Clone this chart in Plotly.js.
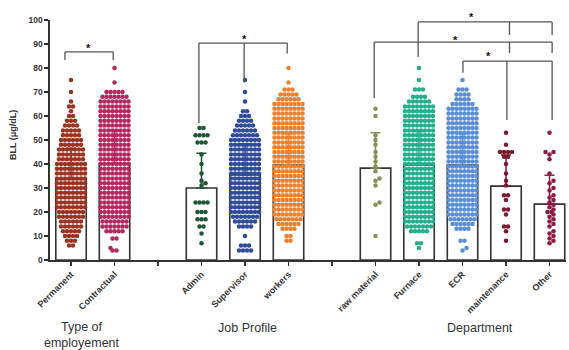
<!DOCTYPE html>
<html><head><meta charset="utf-8">
<script src="https://cdn.plot.ly/plotly-3.0.1.min.js"></script>
<style>html,body{margin:0;padding:0;background:#fff}#chart{width:569px;height:350px}</style>
</head><body><div id="chart"></div>
<script>
// ---------- data ----------
const categories = ['Permanent','Contractual','Admin','Supervisor','workers','raw material','Furnace','ECR','maintenance','Other'];
const catPositions = [0,1,3,4,5,7,8,9,10,11];
const means = [33.6, 40.2, 30.0, 35.4, 39.6, 38.3, 39.5, 39.6, 30.8, 23.3];
const sds   = [13.0, 14.0, 14.5, 13.0, 13.0, 14.7, 14.0, 13.0, 13.0, 12.0];

// dense groups: value rows and number of dots in each row
const permanentLevels = [6,8,10,12,14,16,18,20,22,24,26,28,30,32,34,36,38,40,42,44,46,48,50,52,54,56,58,60,62,64,66,70,75];
const permanentCounts = [2,3,4,5,6,6,7,7,8,8,8,8,8,8,8,8,8,8,7,7,7,6,6,5,5,4,3,2,1,2,1,1,1];
const contractualLevels = [4,5,9,12,14,16,18,20,22,24,26,28,30,32,34,36,38,40,42,44,46,48,50,52,54,56,58,60,62,64,66,68,70,74,80];
const contractualCounts = [2,1,2,5,7,7,8,8,8,8,8,8,8,8,8,8,8,8,8,8,8,8,8,8,8,8,8,8,8,8,8,7,5,1,1];
const supervisorLevels = [4,6,10,14,16,18,20,22,24,26,28,30,32,34,36,38,40,42,44,46,48,50,52,54,56,58,60,62,66,70,75];
const supervisorCounts = [4,3,1,4,6,7,8,8,8,8,8,8,8,8,8,8,8,8,8,8,8,8,7,6,5,4,3,2,1,1,1];
const workersLevels = [8,10,13,15,17,19,21,23,25,27,29,31,33,35,37,39,41,43,45,47,49,51,53,55,57,59,61,63,65,67,69,71,74,80];
const workersCounts = [2,2,4,6,7,8,8,8,8,8,8,8,8,8,8,8,8,8,8,8,8,8,8,8,8,8,8,8,8,6,5,3,1,1];
const furnaceLevels = [5,7,12,14,16,18,20,22,24,26,28,30,32,34,36,38,40,42,44,46,48,50,52,54,56,58,60,62,64,66,68,71,75,80];
const furnaceCounts = [1,2,5,7,8,8,8,8,8,8,8,8,8,8,8,8,8,8,8,8,8,8,8,8,8,8,8,8,8,6,4,3,1,1];
const ecrLevels = [4,5,8,13,15,17,19,21,23,25,27,29,31,33,35,37,39,41,43,45,47,49,51,53,55,57,59,61,63,65,67,69,71,75];
const ecrCounts = [1,1,2,4,6,7,8,8,8,8,8,8,8,8,8,8,8,8,8,8,8,8,8,8,8,8,8,8,8,6,4,4,3,1];

// sparse groups: individual dots
const adminValues = [55,55,52,52,52,52,49,49,49,44,40,36,33,32,31,24,24,24,24,20,20,20,17,17,17,14,14,11,7];
const rawMaterialValues = [63,60,52,50,48,45,43,41,39,37,34,33,31,24,23,10];
const maintenanceValues = [53,48,45,45,45,45,43,43,40,36,33,31,27,27,25,21,21,19,14,14,12,8];
const otherValues = [53,45,44,45,42,36,33,32,30,29,27,26,25,24,23,22,21,20,20,19,18,17,16,15,14,12,11,10,9,8,7];

// significance brackets: [x0, y0, x1, y1] in category / BLL units
const bracketSegments = [
  [-0.14,86.7,0.97,86.7],[-0.14,86.7,-0.14,83.3],[0.97,86.7,0.97,83.3],
  [2.94,90.4,4.97,90.4],[2.94,90.4,2.94,57],[3.98,90.4,3.98,74],[4.97,90.4,4.97,86],
  [7.98,99.2,11.06,99.2],[7.98,99.2,7.98,84.6],[10.08,99.2,10.08,93.8],[11.06,99.2,11.06,93.8],
  [6.97,90.8,11.06,90.8],[6.97,90.8,6.97,67.5],[10.08,90.8,10.08,86.3],[11.06,90.8,11.06,86.3],
  [9.01,82.9,11.06,82.9],[9.01,82.9,9.01,78],[10.02,82.9,10.02,58.3],[11.06,82.9,11.06,58.3]
];
const starPositions = [[0.41,89.6],[3.98,93.3],[9.2,102.5],[8.83,92.9],[9.6,86.3]];

// ---------- styling ----------
const colors = ['#9a3221','#b3275c','#1d5535','#2e4a98','#f07f2c','#8a8d58','#25ad8c','#5a8ed4','#7a1a2e','#8c1d3f'];
const FONT = 'Liberation Sans, Arial, sans-serif';
const PX_PER_X = 43.5, PX_PER_Y = 2.4, DIAM = 4.0;

function expandRows(levels, counts){
  const out = [];
  levels.forEach((v,i)=>{ for(let k=0;k<counts[i];k++) out.push(v); });
  return out;
}
const groupValues = [
  expandRows(permanentLevels, permanentCounts),
  expandRows(contractualLevels, contractualCounts),
  adminValues,
  expandRows(supervisorLevels, supervisorCounts),
  expandRows(workersLevels, workersCounts),
  rawMaterialValues,
  expandRows(furnaceLevels, furnaceCounts),
  expandRows(ecrLevels, ecrCounts),
  maintenanceValues,
  otherValues
];

function swarm(vals){
  const sorted = vals.slice().sort((a,b)=>a-b);
  const placed = [];
  for (const v of sorted){
    for (let k=0;k<60;k++){
      const off = (k%2===1 ? 1 : -1) * Math.ceil(k/2) * DIAM;
      let ok = true;
      for (const p of placed){
        const dy = (v-p.v)*PX_PER_Y;
        if (Math.abs(dy) >= DIAM) continue;
        const dx = off - p.off;
        if (dx*dx+dy*dy < DIAM*DIAM*0.98){ ok=false; break; }
      }
      if (ok){ placed.push({v,off}); break; }
    }
  }
  const rows = {};
  placed.forEach(p=>{ (rows[p.v] = rows[p.v] || []).push(p); });
  Object.values(rows).forEach(r=>{
    if (r.length>1){
      const m = r.reduce((s,p)=>s+p.off,0)/r.length;
      r.forEach(p=>p.off-=m);
    }
  });
  return placed;
}

const traces = [];
categories.forEach((c,i)=>{
  traces.push({
    type:'bar', x:[catPositions[i]], y:[means[i]], width:0.7,
    marker:{color:'#ffffff', line:{color:'#333333', width:1.6}},
    error_y:{type:'data', array:[sds[i]], arrayminus:[0], symmetric:false, color:colors[i], thickness:1.5, width:5},
    showlegend:false, hoverinfo:'skip'
  });
});
categories.forEach((c,i)=>{
  const pts = swarm(groupValues[i]);
  traces.push({
    type:'scatter', mode:'markers', name:c,
    x: pts.map(p=>catPositions[i] + p.off/PX_PER_X),
    y: pts.map(p=>p.v),
    marker:{size:4.5, color:colors[i], line:{width:0}},
    cliponaxis:false, showlegend:false, hoverinfo:'skip'
  });
});

const tickVals = [0,1,2,3,4,5,6,7,8,9,10,11];
const tickText = tickVals.map(v=>{ const i = catPositions.indexOf(v); return i>=0 ? categories[i] : ''; });

const shapes = bracketSegments.map(s=>({
  type:'line', xref:'x', yref:'y', x0:s[0], y0:s[1], x1:s[2], y1:s[3],
  line:{color:'#555555', width:1.3}, layer:'above'
}));

const annotations = starPositions.map(s=>({
  xref:'x', yref:'paper', x:s[0], y:s[1]/100, text:'*', showarrow:false,
  font:{family:FONT, size:11, color:'#111111', weight:'bold'}, xanchor:'center', yanchor:'middle', yshift:-3
}));
annotations.push(
  {xref:'paper', yref:'paper', x:-0.072, y:0.52, text:'BLL (μg/dL)', textangle:-90, showarrow:false,
   font:{family:FONT, size:9, color:'#333', weight:'bold'}, xanchor:'center', yanchor:'middle'},
  {xref:'x', yref:'paper', x:0.25, y:-0.283, text:'Type of<br>employement', showarrow:false,
   font:{family:FONT, size:12.5, color:'#333'}, xanchor:'center', yanchor:'top', yshift:10},
  {xref:'x', yref:'paper', x:4.05, y:-0.283, text:'Job Profile', showarrow:false,
   font:{family:FONT, size:12.5, color:'#333'}, xanchor:'center', yanchor:'middle'},
  {xref:'x', yref:'paper', x:9.4, y:-0.283, text:'Department', showarrow:false,
   font:{family:FONT, size:12.5, color:'#333'}, xanchor:'center', yanchor:'middle'}
);

const layout = {
  width:569, height:350,
  margin:{l:50, r:3, t:20, b:90},
  paper_bgcolor:'#ffffff', plot_bgcolor:'#ffffff',
  barmode:'overlay', showlegend:false,
  xaxis:{range:[-0.483,11.379], showline:true, linecolor:'#333', linewidth:1.6, ticks:'outside', ticklen:4,
         tickcolor:'#333', tickwidth:1.3, tickvals:tickVals, ticktext:tickText, tickangle:-45,
         tickfont:{family:FONT, size:9, color:'#333', weight:'bold'}, showgrid:false, zeroline:false, fixedrange:true},
  yaxis:{range:[0,100], showline:true, linecolor:'#333', linewidth:1.6, ticks:'outside', ticklen:4,
         tickcolor:'#333', tickwidth:1.3, tickvals:[0,10,20,30,40,50,60,70,80,90,100],
         tickfont:{family:FONT, size:8.5, color:'#333', weight:'bold'}, showgrid:false, zeroline:false, fixedrange:true},
  shapes:shapes, annotations:annotations
};

Plotly.newPlot('chart', traces, layout, {displayModeBar:false, staticPlot:true});
</script></body></html>
